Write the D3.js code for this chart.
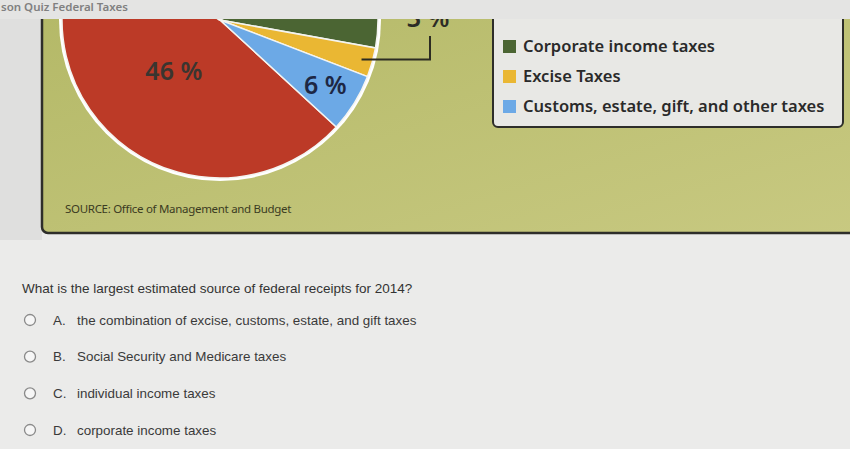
<!DOCTYPE html>
<html>
<head>
<meta charset="utf-8">
<script src="https://cdn.jsdelivr.net/npm/d3@7"></script>
<style>
  html, body { margin: 0; padding: 0; background: #ebebea; }
  svg { display: block; }
</style>
</head>
<body>
<div id="chart"></div>
<script>
// pie data (2014 estimated federal receipts)
const categories = ["Individual income taxes", "Social Security and Medicare taxes", "Corporate income taxes", "Excise Taxes", "Customs, estate, gift, and other taxes"];
const values = [46, 34, 11, 3, 6];
const sliceColors = ["#bc3a27", "#8a6fa8", "#4b6533", "#eab733", "#6ca9e6"];
const labelled = ["Individual income taxes", "Excise Taxes", "Customs, estate, gift, and other taxes"];
const legendItems = ["Corporate income taxes", "Excise Taxes", "Customs, estate, gift, and other taxes"];

const question = "What is the largest estimated source of federal receipts for 2014?";
const optionLetters = ["A.", "B.", "C.", "D."];
const optionTexts = [
  "the combination of excise, customs, estate, and gift taxes",
  "Social Security and Medicare taxes",
  "individual income taxes",
  "corporate income taxes"
];

const width = 850;
const height = 449;
const rad = deg => deg * Math.PI / 180;

const color = d3.scaleOrdinal().domain(categories).range(sliceColors);

const svg = d3.select("#chart")
              .append("svg")
              .attr("width", width)
              .attr("height", height);

const defs = svg.append("defs");
const grad = defs.append("linearGradient")
                 .attr("id", "panelGrad")
                 .attr("x1", "0").attr("y1", "0")
                 .attr("x2", "1").attr("y2", "1");
grad.append("stop").attr("offset", "0%").attr("stop-color", "#b3b866");
grad.append("stop").attr("offset", "100%").attr("stop-color", "#c8c981");

// left page strip
svg.append("rect")
   .attr("x", 0).attr("y", 0)
   .attr("width", 42).attr("height", 240)
   .attr("fill", "#dfdfde");

// chart panel
svg.append("rect")
   .attr("x", 42).attr("y", -20)
   .attr("width", 830).attr("height", 253)
   .attr("rx", 6)
   .attr("fill", "url(#panelGrad)")
   .attr("stroke", "#2e2e2a")
   .attr("stroke-width", 2.5);

// pie
const cx = 220, cy = 20, r = 158;
const pie = d3.pie()
              .sort(null)
              .value(d => d.value)
              .startAngle(rad(132.6))
              .endAngle(rad(132.6) + 2 * Math.PI);
const slices = pie(categories.map((c, i) => ({ name: c, value: values[i] })));

const arc = d3.arc().innerRadius(0).outerRadius(r);

const pieG = svg.append("g").attr("transform", "translate(" + cx + "," + cy + ")");

pieG.append("circle")
    .attr("r", r + 3)
    .attr("fill", "#ffffff");

pieG.selectAll("path")
    .data(slices)
    .enter()
    .append("path")
    .attr("d", arc)
    .attr("fill", d => color(d.data.name))
    .attr("stroke", "#f4f4f0")
    .attr("stroke-width", 1.5);

// in-slice labels
const bigArc = d3.arc().innerRadius(r * 0.45).outerRadius(r * 0.45);
const smallArc = d3.arc().innerRadius(r * 0.77).outerRadius(r * 0.77);

const red = slices.find(d => d.data.name === labelled[0]);
const blue = slices.find(d => d.data.name === labelled[2]);
const yellow = slices.find(d => d.data.name === labelled[1]);

pieG.append("text")
    .attr("transform", "translate(" + bigArc.centroid(red) + ")")
    .attr("x", -5).attr("y", 2)
    .attr("text-anchor", "middle")
    .attr("font-family", "Noto Sans, sans-serif")
    .attr("font-weight", 600)
    .attr("font-size", 25)
    .attr("fill", "#3a3530")
    .text(red.data.value + " %");

pieG.append("text")
    .attr("transform", "translate(" + smallArc.centroid(blue) + ")")
    .attr("x", 2).attr("y", 10)
    .attr("text-anchor", "middle")
    .attr("font-family", "Noto Sans, sans-serif")
    .attr("font-weight", 600)
    .attr("font-size", 25)
    .attr("fill", "#1d2744")
    .text(blue.data.value + " %");

// leader line for the small excise slice
const leadArc = d3.arc().innerRadius(r * 0.93).outerRadius(r * 0.93);
const p0 = leadArc.centroid(yellow);
pieG.append("path")
    .attr("d", "M" + p0[0] + "," + p0[1] + "H" + (430 - cx) + "V" + (36 - cy))
    .attr("fill", "none")
    .attr("stroke", "#2c2c22")
    .attr("stroke-width", 2);

pieG.append("text")
    .attr("x", 428 - cx).attr("y", 27 - cy)
    .attr("text-anchor", "middle")
    .attr("font-family", "Noto Sans, sans-serif")
    .attr("font-weight", 600)
    .attr("font-size", 25)
    .attr("fill", "#2c2c26")
    .text(yellow.data.value + " %");

// source note
svg.append("text")
   .attr("x", 65).attr("y", 213)
   .attr("font-family", "Noto Sans, sans-serif")
   .attr("font-size", 11.5)
   .attr("letter-spacing", -0.3)
   .attr("fill", "#3b3b22")
   .text("SOURCE: Office of Management and Budget");

// legend
const legend = svg.append("g");
legend.append("rect")
      .attr("x", 493).attr("y", -10)
      .attr("width", 350).attr("height", 137)
      .attr("rx", 5)
      .attr("fill", "#e8e8e5")
      .attr("stroke", "#2e2e2a")
      .attr("stroke-width", 2);

const legendY = d3.scalePoint().domain(legendItems).range([46, 106]);

legend.selectAll("rect.key")
      .data(legendItems)
      .enter()
      .append("rect")
      .attr("class", "key")
      .attr("x", 503)
      .attr("y", d => legendY(d) - 6)
      .attr("width", 13).attr("height", 13)
      .attr("fill", d => color(d));

legend.selectAll("text")
      .data(legendItems)
      .enter()
      .append("text")
      .attr("x", 523)
      .attr("y", d => legendY(d) + 6)
      .attr("font-family", "Noto Sans, sans-serif")
      .attr("font-weight", 600)
      .attr("font-size", 16.5)
      .attr("fill", "#2a2a2a")
      .text(d => d);

// header strip over the top of the chart
svg.append("rect")
   .attr("x", 0).attr("y", 0)
   .attr("width", width).attr("height", 19)
   .attr("fill", "#e4e4e3");
svg.append("text")
   .attr("x", 1).attr("y", 11)
   .attr("font-family", "Noto Sans, sans-serif")
   .attr("font-weight", 600)
   .attr("font-size", 11.5)
   .attr("fill", "#808080")
   .text("son Quiz Federal Taxes");

// question
svg.append("text")
   .attr("x", 22).attr("y", 293)
   .attr("font-family", "Liberation Sans, Arial, sans-serif")
   .attr("font-size", 13.5)
   .attr("fill", "#333333")
   .text(question);

const optY = d3.scalePoint().domain(optionLetters).range([320, 430]);

const opts = svg.selectAll("g.opt")
                .data(optionLetters)
                .enter()
                .append("g")
                .attr("class", "opt")
                .attr("transform", d => "translate(0," + optY(d) + ")");

opts.append("circle")
    .attr("cx", 30).attr("cy", 0).attr("r", 5.5)
    .attr("fill", "#f6f6f6")
    .attr("stroke", "#8a8a8a")
    .attr("stroke-width", 1.3);

opts.append("text")
    .attr("x", 53).attr("y", 4.5)
    .attr("font-family", "Liberation Sans, Arial, sans-serif")
    .attr("font-size", 13.4)
    .attr("fill", "#3a3a3a")
    .text(d => d);

opts.append("text")
    .attr("x", 77).attr("y", 4.5)
    .attr("font-family", "Liberation Sans, Arial, sans-serif")
    .attr("font-size", 13.4)
    .attr("fill", "#3a3a3a")
    .text((d, i) => optionTexts[i]);
</script>
</body>
</html>
